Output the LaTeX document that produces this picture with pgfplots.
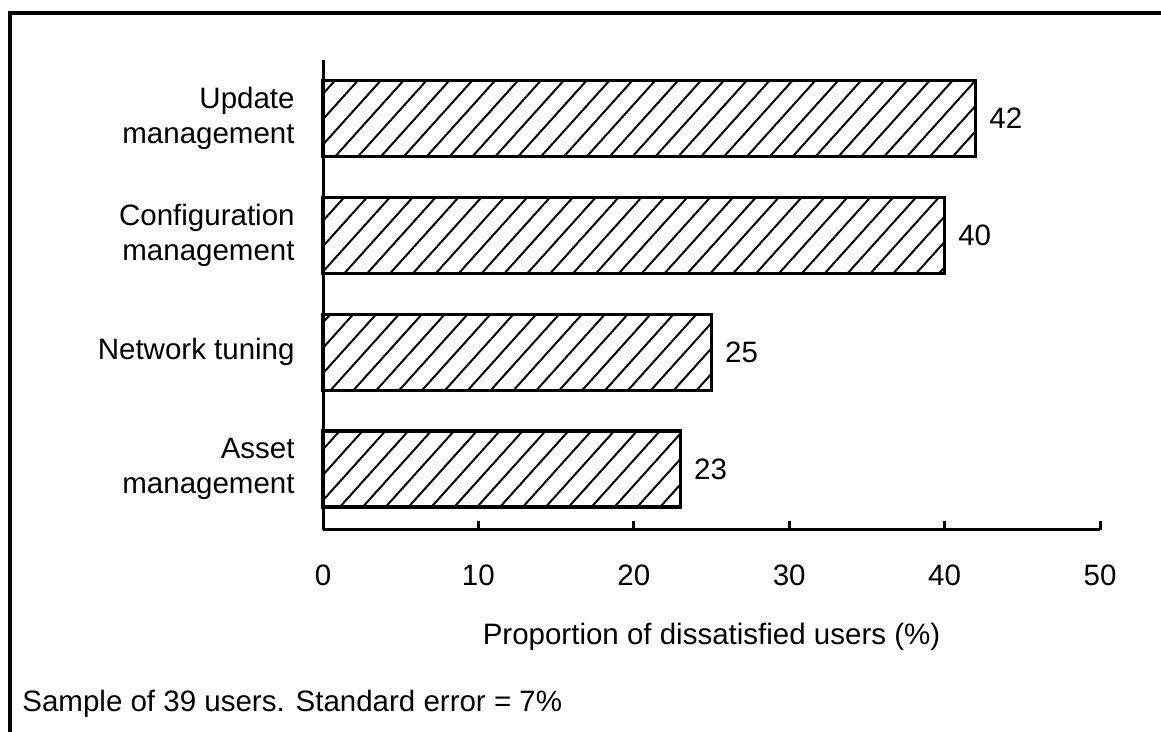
\documentclass[border=0pt]{standalone}
\usepackage{fontspec}
\setmainfont{Liberation Sans}
\usepackage{pgfplots}
\pgfplotsset{compat=1.18}
\usetikzlibrary{patterns.meta}
\begin{document}
\begin{tikzpicture}
\useasboundingbox (0,0) rectangle (580.5pt,366pt);
\fill[white] (0,0) rectangle (580.5pt,366pt);
\draw[line width=1.6pt] (5pt,0) -- (5pt,359.5pt) -- (580.5pt,359.5pt);
\begin{axis}[
  at={(161.5pt,101pt)}, anchor=south west,
  scale only axis, width=388.5pt, height=235pt,
  xbar, bar width=0.65,
  xmin=0, xmax=50, ymin=-0.52, ymax=3.5,
  axis x line*=bottom, axis y line*=left,
  axis line style={line width=1.5pt, -},
  xtick={0,10,20,30,40,50},
  tick align=inside, major tick length=4.5pt,
  xtick style={line width=1.5pt, black},
  ytick={0,1,2,3},
  ytick style={draw=none},
  yticklabels={{Asset\\management},{Network tuning},{Configuration\\management},{Update\\management}},
  font=\fontsize{14.75}{17.5}\selectfont,
  /pgf/number format/assume math mode=true,
  yticklabel style={anchor=east, inner sep=0pt, xshift=-14pt, align=right},
  xticklabel style={anchor=north, inner sep=0pt, yshift=-17.5pt},
  xlabel={Proportion of dissatisfied users (\%)},
  xlabel style={at={(axis description cs:0.5,0)}, anchor=base, yshift=-57.5pt, inner sep=0pt},
  nodes near coords,
  every node near coord/.append style={anchor=west, inner sep=0pt, xshift=6pt, font=\fontsize{14.75}{17.5}\selectfont},
  clip=false,
]
\addplot[draw=black, line width=1.7pt, fill=white,
  postaction={pattern={Lines[angle=48,distance=8.5pt,line width=1pt]}}]
  coordinates {(23,0) (25,1) (40,2) (42,3)};
\end{axis}
\node[anchor=base west, inner sep=0pt, font=\fontsize{14.75}{17.5}\selectfont] at (11pt,10pt) {Sample of 39 users. Standard error = 7\%};
\end{tikzpicture}
\end{document}
